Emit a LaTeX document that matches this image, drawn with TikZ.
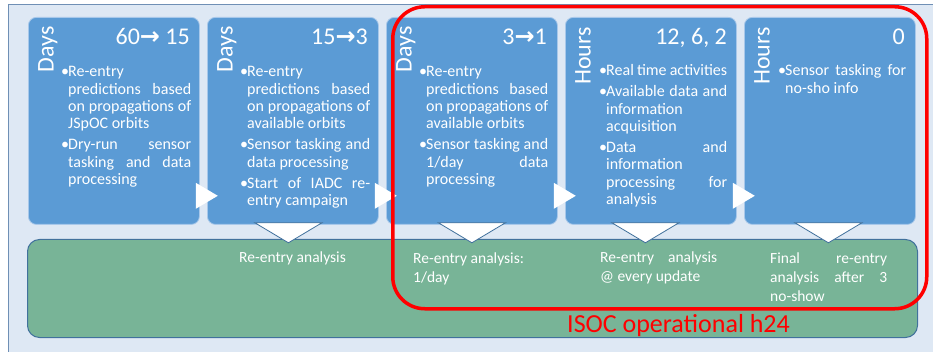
\documentclass[tikz,border=0pt]{standalone}
\usepackage{fontspec}
\setmainfont{Carlito}
\newfontfamily\arrowfont{DejaVu Sans}
\usetikzlibrary{calc}
\definecolor{panelfill}{HTML}{DEE8F4}
\definecolor{paneledge}{HTML}{6F8FB5}
\definecolor{boxblue}{HTML}{5B9BD5}
\definecolor{boxedge}{HTML}{A8C8EA}
\definecolor{greenfill}{HTML}{78B497}
\definecolor{greenedge}{HTML}{41719C}
\definecolor{isocred}{HTML}{FF0000}
\newcommand\bul{\noindent\llap{\makebox[6pt][c]{•}}}
\newcommand\bodyset{\fontsize{16}{17.3}\selectfont\parskip=3.7pt\tolerance=10000\hbadness=10000\hfuzz=3pt\hyphenpenalty=10000\exhyphenpenalty=10000}
\newcommand\greenset{\fontsize{15.5}{19}\selectfont\tolerance=10000\hbadness=10000\hfuzz=3pt\hyphenpenalty=10000\exhyphenpenalty=10000}
\newcommand\rarr{{\arrowfont\bfseries →}}
\begin{document}
\begin{tikzpicture}[x=1pt,y=-1pt,
  panelbox/.style={rectangle, fill=panelfill, draw=paneledge, line width=1pt, minimum width=945pt, minimum height=365pt, anchor=north west, inner sep=0pt},
  stagebox/.style={rectangle, rounded corners=8pt, fill=boxblue, draw=boxedge, line width=0.8pt, minimum width=171pt, minimum height=207pt, anchor=north west, inner sep=0pt},
  greenbox/.style={rectangle, rounded corners=12pt, fill=greenfill, draw=greenedge, line width=1pt, minimum width=890pt, minimum height=98pt, anchor=north west, inner sep=0pt},
  isocbox/.style={rectangle, rounded corners=32pt, draw=isocred, line width=3.5pt, minimum width=534pt, minimum height=302pt, anchor=north west, inner sep=0pt},
  headlabel/.style={rotate=90, anchor=north east, inner sep=0pt, text=white, font=\fontsize{24}{28}\selectfont},
  headnum/.style={anchor=base east, inner sep=0pt, text=white, font=\fontsize{24}{28}\selectfont},
  bodytext/.style={anchor=base west, inner sep=0pt, text=white},
  rtri/.style={fill=white},
  dtri/.style={fill=white, draw=greenedge, line width=0.8pt, line join=miter}
]
\useasboundingbox (0,0) rectangle (933,352);
\node[panelbox] (panel) at (8,4) {};
\node[greenbox] (g) at (27,239) {};
\node[stagebox] (b1) at (28,17) {};
\node[stagebox] (b2) at (207,17) {};
\node[stagebox] (b3) at (386,17) {};
\node[stagebox] (b4) at (565,17) {};
\node[stagebox] (b5) at (744,17) {};
% down triangles
\foreach \b/\dx in {b2/-4.5, b3/0, b4/-5.5, b5/-1.5}{
  \path[dtri] ($(\b.south)+(\dx pt-33.5pt,2pt)$) -- ($(\b.south)+(\dx pt+33.5pt,2pt)$) -- ($(\b.south)+(\dx pt,-18pt)$) -- cycle;
}
% right triangles
\foreach \b in {b1,b2,b3,b4}{
  \path[rtri] ($(\b.south east)+(-4pt,42pt)$) -- ($(\b.south east)+(18pt,29pt)$) -- ($(\b.south east)+(-4pt,16pt)$) -- cycle;
}
% headers
\node[headlabel] (h1) at (38,26) {Days};
\node[headlabel] (h2) at (217,26) {Days};
\node[headlabel] (h3) at (396,26) {Days};
\node[headlabel] (h4) at (575,27) {Hours};
\node[headlabel] (h5) at (754,27) {Hours};
\node[headnum] (n1) at (190,45) {60\rarr\ 15};
\node[headnum] (n2) at (368,45) {15\rarr3};
\node[headnum] (n3) at (547,45) {3\rarr1};
\node[headnum] (n4) at (727,45) {12, 6, 2};
\node[headnum] (n5) at (905,45) {0};
% body texts
\node[bodytext] (t1) at (68,77) {\parbox[t]{123pt}{\bodyset
\bul Re-entry\linebreak predictions based\linebreak on propagations of\linebreak JSpOC orbits\par
\bul Dry-run sensor\linebreak tasking and data\linebreak processing}};
\node[bodytext] (t2) at (247,77) {\parbox[t]{123pt}{\bodyset
\bul Re-entry\linebreak predictions based\linebreak on propagations of\linebreak available orbits\par
\bul Sensor tasking and\linebreak data processing\par
\bul Start of IADC re-\linebreak entry campaign}};
\node[bodytext] (t3) at (426,77) {\parbox[t]{122pt}{\bodyset
\bul Re-entry\linebreak predictions based\linebreak on propagations of\linebreak available orbits\par
\bul Sensor tasking and\linebreak 1/day data\linebreak processing}};
\node[bodytext] (t4) at (606,76) {\parbox[t]{121pt}{\bodyset
\bul Real time activities\par
\bul Available data and\linebreak information\linebreak acquisition\par
\bul Data and\linebreak information\linebreak processing for\linebreak analysis}};
\node[bodytext] (t5) at (785,76) {\parbox[t]{121pt}{\bodyset
\bul Sensor tasking for\linebreak no-sho info}};
% green texts
\node[bodytext] (g2) at (239,263) {\parbox[t]{117pt}{\greenset Re-entry analysis}};
\node[bodytext] (g3) at (413,264) {\parbox[t]{117pt}{\greenset Re-entry analysis:\\ 1/day}};
\node[bodytext] (g4) at (600,262) {\parbox[t]{117pt}{\greenset Re-entry analysis\linebreak @ every update}};
\node[bodytext] (g5) at (770,264) {\parbox[t]{117pt}{\greenset Final re-entry\linebreak analysis after 3\linebreak no-show}};
% ISOC frame
\node[isocbox] (isoc) at (391,5) {};
\node[anchor=base west, inner sep=0pt, text=isocred, font=\fontsize{26}{30}\selectfont] (isoclbl) at (567,332) {ISOC operational h24};
\end{tikzpicture}
\end{document}
